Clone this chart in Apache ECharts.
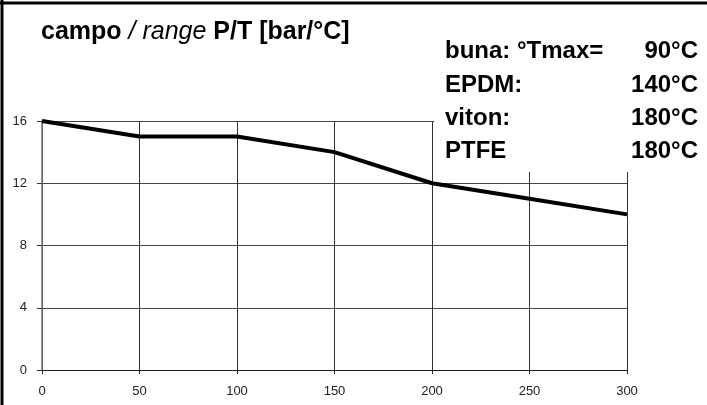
<!DOCTYPE html>
<html>
<head>
<meta charset="utf-8">
<script src="https://cdn.jsdelivr.net/npm/echarts@6/dist/echarts.min.js"></script>
<style>
html,body{margin:0;padding:0;background:#fff;}
#chart{width:707px;height:405px;}
</style>
</head>
<body>
<div id="chart"></div>
<script>
// Data
var temperatures = [0, 50, 100, 150, 200, 250, 300];
var pressures = [16, 15, 15, 14, 12, 11, 10];
var materialNames = ['buna: °Tmax=', 'EPDM:', 'viton:', 'PTFE'];
var materialTemps = ['90°C', '140°C', '180°C', '180°C'];

var FONT = '"Liberation Sans", Arial, sans-serif';
var chart = echarts.init(document.getElementById('chart'), null, {renderer: 'canvas'});

var graphics = [
  // outer frame (top and left)
  {type: 'line', shape: {x1: 0, y1: 3, x2: 707, y2: 3}, style: {stroke: '#000', lineWidth: 3}, z: 20},
  {type: 'line', shape: {x1: 2, y1: 0, x2: 2, y2: 405}, style: {stroke: '#000', lineWidth: 3}, z: 20},
  // white box behind material text
  {type: 'rect', shape: {x: 434, y: 30, width: 273, height: 142}, style: {fill: '#fff'}, z: 10}
];
var rowY = [51, 85, 118, 151];
for (var i = 0; i < materialNames.length; i++) {
  graphics.push({type: 'text', x: 445, y: rowY[i], z: 11,
    style: {text: materialNames[i], font: 'bold 24px ' + FONT, fill: '#000', textAlign: 'left', textVerticalAlign: 'middle'}});
  graphics.push({type: 'text', x: 698, y: rowY[i], z: 11,
    style: {text: materialTemps[i], font: 'bold 24px ' + FONT, fill: '#000', textAlign: 'right', textVerticalAlign: 'middle'}});
}

var option = {
  animation: false,
  backgroundColor: '#fff',
  title: {
    left: 36, top: 15,
    text: '{b|campo }{i|/ range }{b|P/T [bar/°C]}',
    textStyle: {
      rich: {
        b: {fontFamily: FONT, fontWeight: 'bold', fontSize: 25, color: '#000'},
        i: {fontFamily: FONT, fontStyle: 'italic', fontWeight: 'normal', fontSize: 25, color: '#000'}
      }
    }
  },
  grid: {left: 42, right: 80, top: 121, bottom: 35, containLabel: false},
  xAxis: {
    type: 'value', min: 0, max: 300, interval: 50,
    axisLine: {show: true, lineStyle: {color: '#222', width: 1}},
    axisTick: {show: true, length: 4, lineStyle: {color: '#222'}},
    axisLabel: {fontFamily: FONT, fontSize: 13, color: '#222', margin: 15},
    splitLine: {show: true, lineStyle: {color: '#333', width: 1}}
  },
  yAxis: {
    type: 'value', min: 0, max: 16, interval: 4,
    axisLine: {show: true, lineStyle: {color: '#777', width: 1.5}},
    axisTick: {show: true, length: 5, lineStyle: {color: '#333'}},
    axisLabel: {fontFamily: FONT, fontSize: 13, color: '#222', margin: 15},
    splitLine: {show: true, lineStyle: {color: '#444', width: 1}}
  },
  series: [{
    type: 'line',
    data: temperatures.map(function (t, i) { return [t, pressures[i]]; }),
    symbol: 'none',
    lineStyle: {color: '#000', width: 4},
    z: 5
  }],
  graphic: graphics
};
chart.setOption(option);
</script>
</body>
</html>
